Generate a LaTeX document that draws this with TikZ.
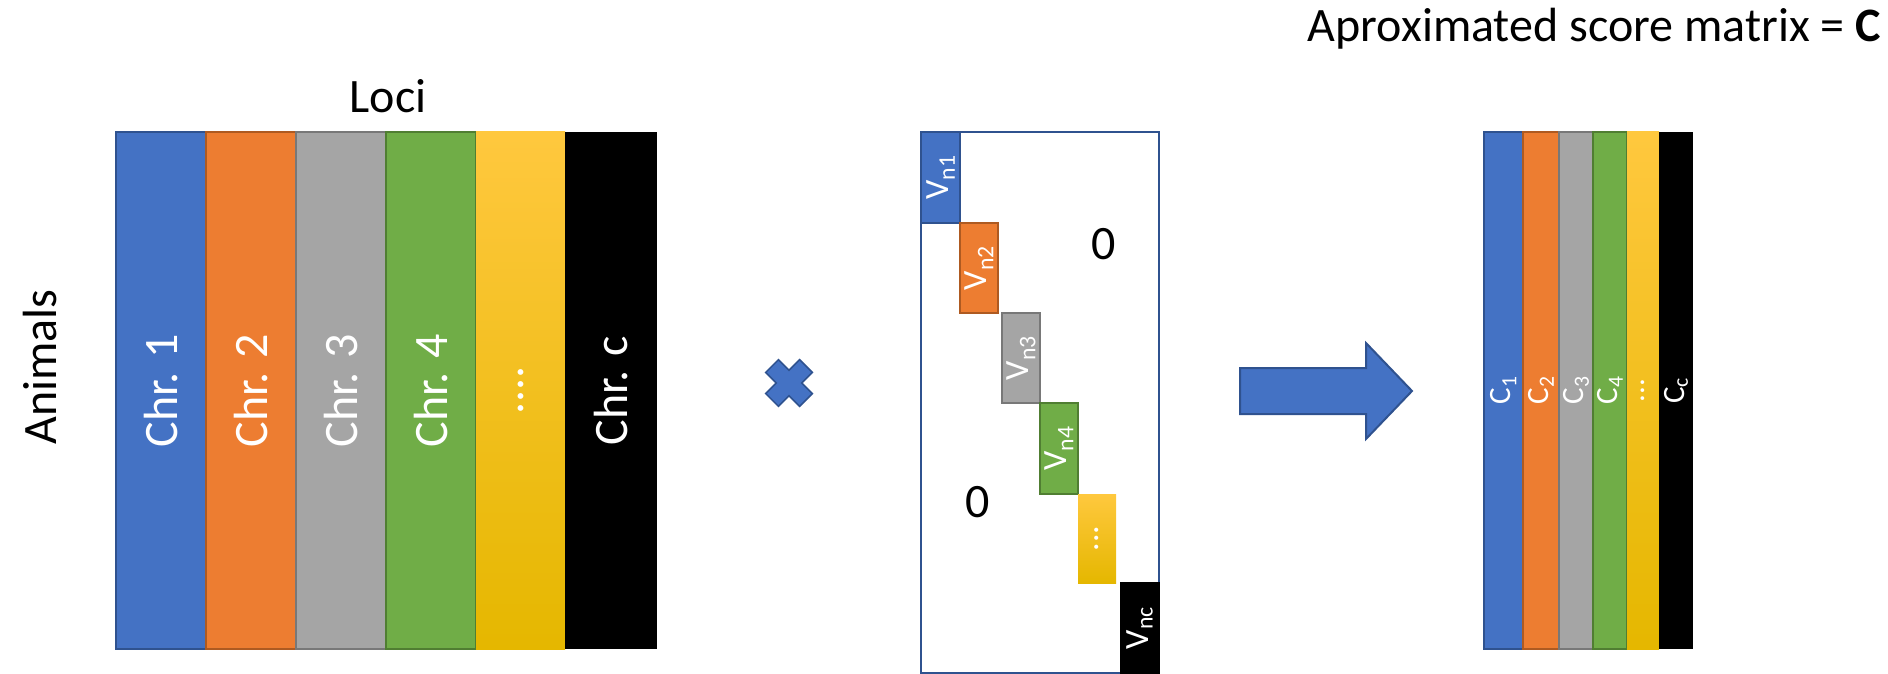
\documentclass[tikz,border=0pt]{standalone}
\usepackage{fontspec}
\setmainfont{Carlito}
\definecolor{cblue}{HTML}{4472C4}
\definecolor{dblue}{HTML}{2F528F}
\definecolor{corange}{HTML}{ED7D31}
\definecolor{dorange}{HTML}{AE5A21}
\definecolor{cgray}{HTML}{A5A5A5}
\definecolor{dgray}{HTML}{787878}
\definecolor{cgreen}{HTML}{70AD47}
\definecolor{dgreen}{HTML}{507E32}
\definecolor{ytop}{HTML}{FFC83E}
\definecolor{ymid}{HTML}{FFC200}
\definecolor{ybot}{HTML}{E5B700}
\tikzset{
  bluebox/.style={fill=cblue, draw=dblue, line width=2pt},
  orangebox/.style={fill=corange, draw=dorange, line width=2pt},
  graybox/.style={fill=cgray, draw=dgray, line width=2pt},
  greenbox/.style={fill=cgreen, draw=dgreen, line width=2pt},
  goldbox/.style={top color=ytop, middle color=ymid, bottom color=ybot, draw=none},
  blackbox/.style={fill=black, draw=none},
  biglbl/.style={text=white, rotate=90, inner sep=0pt, font=\fontsize{48}{58}\selectfont},
  vlbl/.style={text=white, rotate=90, inner sep=0pt, font=\fontsize{34}{40}\selectfont},
  clbl/.style={text=white, rotate=90, inner sep=0pt, font=\fontsize{31}{37}\selectfont},
  plain/.style={text=black, inner sep=0pt, font=\fontsize{48}{58}\selectfont}
}
\begin{document}
\begin{tikzpicture}[x=1pt,y=-1pt]
\useasboundingbox (0,0) rectangle (1888,674);
% title and axis labels
\node[plain, anchor=base east] (title) at (1881,42) {Aproximated score matrix = \textbf{C}};
\node[plain] (loci) at (388,96) {Loci};
\node[plain, rotate=90] (animals) at (40,367) {Animals};
% left matrix
\path[bluebox]   (116,132) rectangle (206,649) node[biglbl, midway] (chr1) {Chr. 1};
\path[orangebox] (206,132) rectangle (296,649) node[biglbl, midway] (chr2) {Chr. 2};
\path[graybox]   (296,132) rectangle (386,649) node[biglbl, midway] (chr3) {Chr. 3};
\path[greenbox]  (386,132) rectangle (476,649) node[biglbl, midway] (chr4) {Chr. 4};
\path[goldbox]   (476,132) rectangle (565,649) node[biglbl, midway] (chrd) {....};
\path[blackbox]  (565,132) rectangle (657,649) node[biglbl, midway] (chrc) {Chr. c};
% multiplication cross
\fill[cblue, draw=dblue, line width=1.5pt, rotate around={45:(789,383)}]
  (780,359) -- (798,359) -- (798,374) -- (813,374) -- (813,392) -- (798,392) -- (798,407)
  -- (780,407) -- (780,392) -- (765,392) -- (765,374) -- (780,374) -- cycle;
% middle matrix
\draw[dblue, line width=2pt] (921,132) rectangle (1159,673);
\path[bluebox]   (921,132) rectangle (960,223) node[vlbl, midway] (v1) {V\textsubscript{n1}};
\path[orangebox] (960,223) rectangle (998,313) node[vlbl, midway] (v2) {V\textsubscript{n2}};
\path[graybox]   (1002,313) rectangle (1040,403) node[vlbl, midway] (v3) {V\textsubscript{n3}};
\path[greenbox]  (1040,403) rectangle (1078,494) node[vlbl, midway] (v4) {V\textsubscript{n4}};
\path[goldbox]   (1078,494) rectangle (1116,583) node[vlbl, midway] (vd) {...};
\path[blackbox]  (1120,582) rectangle (1160,674) node[vlbl, midway] (vc) {V\textsubscript{nc}};
\node[plain] (zeroA) at (1104,244) {0};
\node[plain] (zeroB) at (978,502) {0};
% block arrow
\fill[cblue, draw=dblue, line width=2pt]
  (1240,368) -- (1366,368) -- (1366,343) -- (1412,391) -- (1366,439) -- (1366,414) -- (1240,414) -- cycle;
% right matrix
\path[bluebox]   (1484,132) rectangle (1523,649) node[clbl, midway] (c1) {C\textsubscript{1}};
\path[orangebox] (1523,132) rectangle (1559,649) node[clbl, midway] (c2) {C\textsubscript{2}};
\path[graybox]   (1559,132) rectangle (1593,649) node[clbl, midway] (c3) {C\textsubscript{3}};
\path[greenbox]  (1593,132) rectangle (1627,649) node[clbl, midway] (c4) {C\textsubscript{4}};
\path[goldbox]   (1627,132) rectangle (1659,649) node[clbl, midway] (cd) {...};
\path[blackbox]  (1659,132) rectangle (1693,649) node[clbl, midway] (cc) {C\textsubscript{c}};
\end{tikzpicture}
\end{document}
